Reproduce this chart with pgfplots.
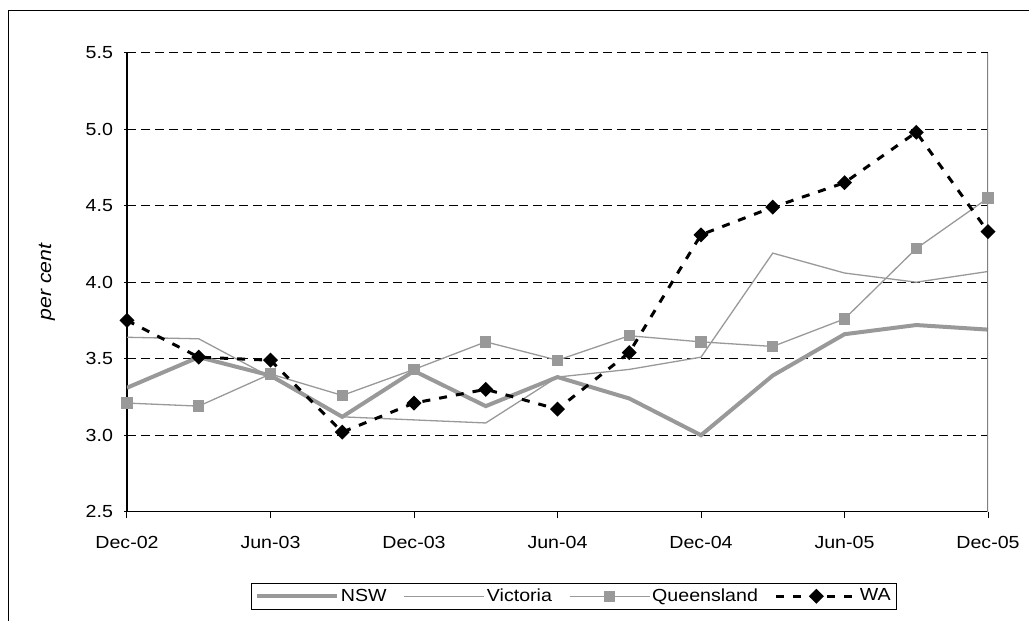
\documentclass[border=0pt]{standalone}
\usepackage{pgfplots}
\pgfplotsset{compat=1.18}
\usepackage{fontspec}
\setmainfont{Liberation Sans}[FakeStretch=1.12]

\definecolor{seriesgray}{RGB}{153,153,153}
\definecolor{framegray}{RGB}{128,128,128}

\begin{document}
\begin{tikzpicture}
\fontsize{17.5}{20}\selectfont
\useasboundingbox (0pt,0pt) rectangle (1029pt,621pt);
% chart frame (left and top edges)
\draw[line width=1pt] (8.5pt,0pt) -- (8.5pt,610.5pt) -- (1029pt,610.5pt);
\begin{axis}[
  at={(127pt,109.3pt)}, anchor=south west,
  scale only axis, width=861pt, height=459pt,
  xmin=0, xmax=12, ymin=2.5, ymax=5.5,
  axis x line*=bottom, axis y line*=left,
  axis line style={line width=1.2pt, black},
  xtick={0,2,...,12},
  xticklabels={Dec-02,Jun-03,Dec-03,Jun-04,Dec-04,Jun-05,Dec-05},
  xticklabel style={yshift=-13pt},
  ytick={2.5,3,...,5.5},
  yticklabel style={xshift=-5pt, /pgf/number format/.cd, fixed, fixed zerofill, precision=1},
  /pgf/number format/assume math mode=true,
  xtick align=outside, ytick align=center,
  major tick length=6pt,
  every tick/.style={black, line width=1pt},
  ymajorgrids,
  major grid style={black, line width=0.9pt, dash pattern=on 9pt off 5pt},
  ylabel={\itshape per cent},
  every axis y label/.style={at={(axis description cs:0,0.5)}, xshift=-80pt, rotate=90, anchor=center, font=\fontsize{19}{22}\selectfont},
  legend columns=4,
  legend style={at={(0.519,-0.1547)}, anchor=north, draw=black, line width=0.8pt,
    inner xsep=4pt, inner ysep=3.5pt,
    nodes={inner sep=2pt, anchor=west},
    /tikz/every even column/.append style={column sep=15pt}},
  legend image code/.code={\draw[mark repeat=2,mark phase=2,#1] plot coordinates {(0pt,0pt) (40pt,0pt) (80pt,0pt)};},
]
\addplot[seriesgray, line width=4pt, no marks] coordinates {
 (0,3.31) (1,3.51) (2,3.39) (3,3.12) (4,3.42) (5,3.19) (6,3.38)
 (7,3.24) (8,3.00) (9,3.39) (10,3.66) (11,3.72) (12,3.69)};
\addlegendentry{NSW}
\addplot[seriesgray, line width=1.3pt, no marks] coordinates {
 (0,3.64) (1,3.63) (2,3.38) (3,3.12) (4,3.10) (5,3.08) (6,3.38)
 (7,3.43) (8,3.51) (9,4.19) (10,4.06) (11,4.00) (12,4.07)};
\addlegendentry{Victoria}
\addplot[seriesgray, line width=1.3pt, mark=square*, mark size=5pt, mark options={solid, fill=seriesgray, draw=none}] coordinates {
 (0,3.21) (1,3.19) (2,3.40) (3,3.26) (4,3.43) (5,3.61) (6,3.49)
 (7,3.65) (8,3.61) (9,3.58) (10,3.76) (11,4.22) (12,4.55)};
\addlegendentry{Queensland}
\addplot[black, line width=3pt, dash pattern=on 8pt off 9pt, mark=square*, mark size=3.8pt, mark options={solid, fill=black, draw=none, rotate=45}] coordinates {
 (0,3.75) (1,3.51) (2,3.49) (3,3.02) (4,3.21) (5,3.30) (6,3.17)
 (7,3.54) (8,4.31) (9,4.49) (10,4.65) (11,4.98) (12,4.33)};
\addlegendentry{WA}
% plot area right edge
\draw[framegray, line width=1.2pt] (rel axis cs:1,0) -- (rel axis cs:1,1);
\end{axis}
\end{tikzpicture}
\end{document}
